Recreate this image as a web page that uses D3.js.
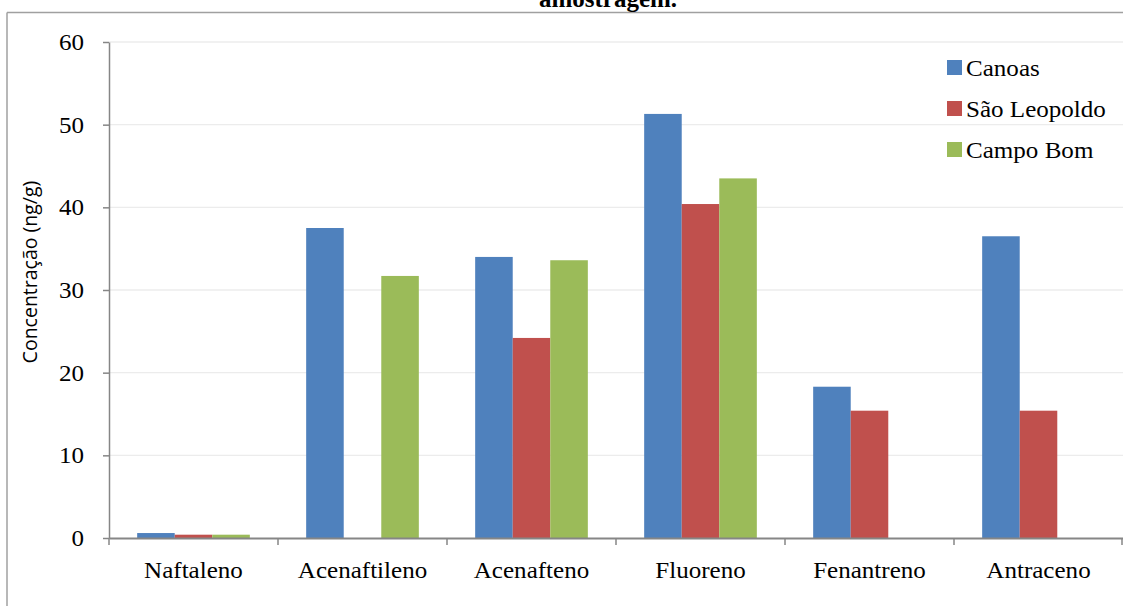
<!DOCTYPE html>
<html>
<head>
<meta charset="utf-8">
<script src="https://cdn.jsdelivr.net/npm/d3@7"></script>
<style>
  html, body { margin: 0; padding: 0; background: #fff; overflow: hidden; }
  svg { display: block; }
</style>
</head>
<body>
<svg id="chart" width="1123" height="606"></svg>
<script>
// ---- data ----
const categories = ["Naftaleno", "Acenaftileno", "Acenafteno", "Fluoreno", "Fenantreno", "Antraceno"];
const seriesNames = ["Canoas", "São Leopoldo", "Campo Bom"];
const canoas      = [0.6, 37.5, 34.0, 51.3, 18.3, 36.5];
const saoLeopoldo = [0.4, 0.0, 24.2, 40.4, 15.4, 15.4];
const campoBom    = [0.4, 31.7, 33.6, 43.5, 0.0, 0.0];
const yTicks = [0, 10, 20, 30, 40, 50, 60];
const yTitle = "Concentração (ng/g)";
const chartTitle = "amostragem.";

const seriesValues = [canoas, saoLeopoldo, campoBom];
const colors = ["#4f81bd", "#c0504d", "#9bbb59"];

const svg = d3.select("#chart");
const plot = { left: 109, right: 1123, top: 42, bottom: 538 };
const sx = 1.09; // horizontal stretch of serif text

// frame (left and top edges; the rest lies outside the view)
svg.append("line").attr("x1", 7).attr("x2", 7).attr("y1", 12.5).attr("y2", 606)
  .attr("stroke", "#a0a0a0").attr("stroke-width", 1.5);
svg.append("line").attr("x1", 7).attr("x2", 1123).attr("y1", 12.5).attr("y2", 12.5)
  .attr("stroke", "#a0a0a0").attr("stroke-width", 1.5);

// title (clipped at top, as in the reference)
svg.append("text")
  .attr("x", 608).attr("y", 7)
  .attr("text-anchor", "middle")
  .style("font-family", "'Liberation Serif', 'Times New Roman', serif")
  .style("font-weight", "bold")
  .style("font-size", "25px")
  .text(chartTitle);

const x0 = d3.scaleBand().domain(categories).range([plot.left, plot.right]).paddingInner(0).paddingOuter(0);
const x1 = d3.scaleBand().domain(seriesNames).range([0, x0.bandwidth()]).paddingInner(0).paddingOuter(0.75);
const y = d3.scaleLinear().domain([0, 60]).range([plot.bottom, plot.top]);

// gridlines
svg.append("g").selectAll("line").data(yTicks.filter(d => d > 0)).join("line")
  .attr("x1", plot.left).attr("x2", plot.right)
  .attr("y1", d => y(d)).attr("y2", d => y(d))
  .attr("stroke", "#ececec").attr("stroke-width", 1.3);

// bars
const rows = [];
seriesNames.forEach((s, si) => categories.forEach((c, ci) => {
  rows.push({ s, c, v: seriesValues[si][ci], color: colors[si] });
}));
svg.append("g").selectAll("rect").data(rows.filter(r => r.v > 0)).join("rect")
  .attr("x", d => x0(d.c) + x1(d.s))
  .attr("width", x1.bandwidth())
  .attr("y", d => y(d.v))
  .attr("height", d => y(0) - y(d.v))
  .attr("fill", d => d.color);

// y axis
const yAxis = svg.append("g")
  .attr("transform", `translate(${plot.left},0)`)
  .call(d3.axisLeft(y).tickValues(yTicks).tickSize(6).tickPadding(17).tickSizeOuter(0));
yAxis.select(".domain").attr("stroke", "#868686").attr("stroke-width", 1.5);
yAxis.selectAll(".tick line").attr("stroke", "#868686").attr("stroke-width", 1.5);
yAxis.selectAll(".tick text")
  .attr("transform", `scale(${sx},1)`)
  .attr("fill", "#000")
  .style("font-family", "'Liberation Serif', 'Times New Roman', serif")
  .style("font-size", "23px");

// x axis line, labels and boundary ticks
const xAxis = svg.append("g")
  .attr("transform", `translate(0,${plot.bottom})`)
  .call(d3.axisBottom(x0).tickSize(0).tickPadding(24).tickSizeOuter(0));
xAxis.select(".domain").attr("stroke", "#868686").attr("stroke-width", 1.8);
xAxis.selectAll(".tick text")
  .attr("transform", `scale(${sx},1)`)
  .attr("fill", "#000")
  .style("font-family", "'Liberation Serif', 'Times New Roman', serif")
  .style("font-size", "23px");
const bounds = categories.map(c => x0(c)).concat([x0.range()[1] - 1]);
xAxis.selectAll(".bound").data(bounds).join("line").attr("class", "bound")
  .attr("x1", d => d).attr("x2", d => d).attr("y1", 0).attr("y2", 7)
  .attr("stroke", "#868686").attr("stroke-width", 1.5);

// y title
svg.append("text")
  .attr("transform", "translate(37,272) rotate(-90)")
  .attr("text-anchor", "middle")
  .style("font-family", "'Open Sans', sans-serif")
  .style("font-size", "19.5px")
  .attr("fill", "#000")
  .text(yTitle);

// legend
const legend = svg.append("g");
const lg = legend.selectAll("g").data(seriesNames).join("g")
  .attr("transform", (d, i) => `translate(947,${60 + i * 41})`);
lg.append("rect").attr("width", 15).attr("height", 15).attr("fill", (d, i) => colors[i]);
lg.append("text")
  .attr("transform", `translate(19,16) scale(${sx},1)`)
  .style("font-family", "'Liberation Serif', 'Times New Roman', serif")
  .style("font-size", "23px")
  .text(d => d);
</script>
</body>
</html>
